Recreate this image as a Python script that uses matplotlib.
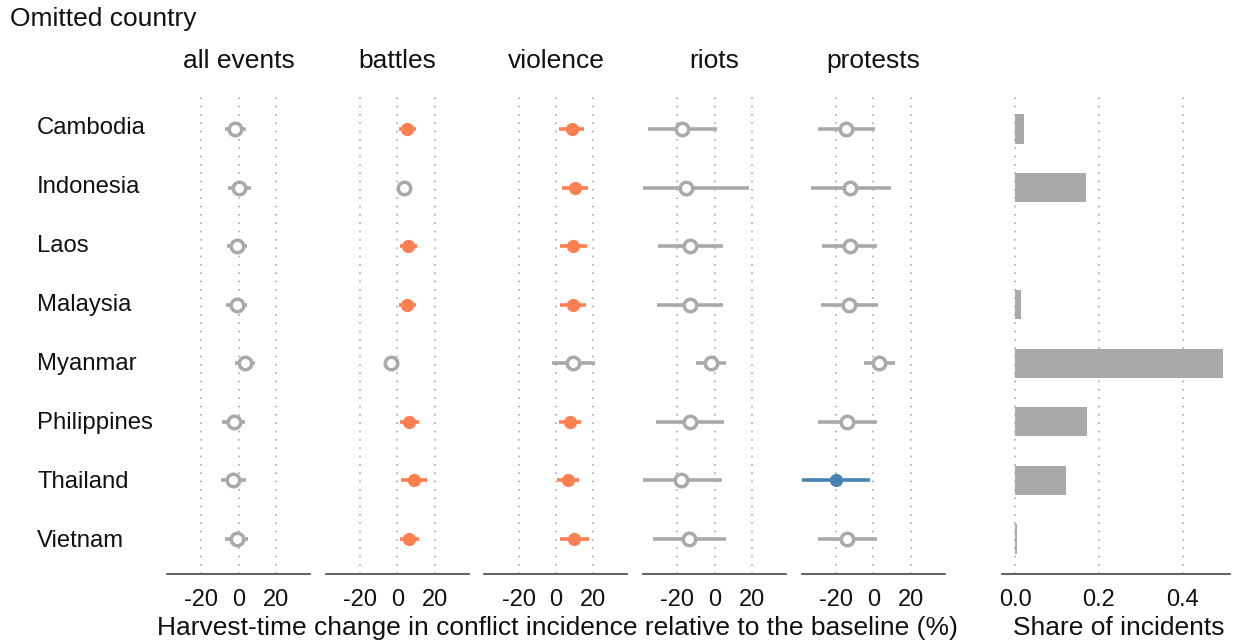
import matplotlib
matplotlib.use("Agg")
import matplotlib.pyplot as plt

plt.rcParams['font.family'] = ['Liberation Sans', 'DejaVu Sans']

# data
countries = ["Cambodia", "Indonesia", "Laos", "Malaysia",
             "Myanmar", "Philippines", "Thailand", "Vietnam"]
panels = ["all events", "battles", "violence", "riots", "protests"]

all_est = [-2.0, 0.3, -0.9, -1.1, 3.2, -2.7, -3.0, -1.1]
all_lo = [-7.3, -5.5, -6.4, -6.8, -2.1, -8.9, -9.6, -7.1]
all_hi = [3.7, 6.4, 4.6, 4.4, 8.7, 3.6, 3.7, 5.0]
all_sig = ["ns", "ns", "ns", "ns", "ns", "ns", "ns", "ns"]

bat_est = [5.0, 3.6, 5.5, 5.2, -3.4, 6.4, 8.9, 6.1]
bat_lo = [0.9, 2.0, 1.3, 1.1, -4.8, 1.3, 2.1, 1.4]
bat_hi = [9.8, 5.2, 10.3, 10.0, -2.0, 11.7, 15.8, 11.4]
bat_sig = ["pos", "ns", "pos", "pos", "ns", "pos", "pos", "pos"]

vio_est = [8.5, 10.1, 9.3, 9.1, 9.3, 7.7, 6.2, 9.8]
vio_lo = [1.8, 3.4, 2.0, 2.3, -2.3, 1.8, 0.4, 2.3]
vio_hi = [15.1, 17.3, 16.7, 15.8, 20.8, 13.5, 12.5, 17.4]
vio_sig = ["pos", "pos", "pos", "pos", "ns", "pos", "pos", "pos"]

riot_est = [-17.2, -15.1, -13.0, -13.3, -2.0, -13.2, -18.1, -13.7]
riot_lo = [-35.6, -38.2, -30.0, -30.8, -10.0, -31.1, -38.2, -32.9]
riot_hi = [1.2, 18.3, 4.4, 4.6, 6.2, 5.0, 3.7, 5.9]
riot_sig = ["ns", "ns", "ns", "ns", "ns", "ns", "ns", "ns"]

prot_est = [-14.6, -12.3, -12.6, -12.8, 3.2, -13.9, -19.9, -14.0]
prot_lo = [-29.7, -33.2, -27.2, -27.9, -5.0, -29.7, -38.0, -29.7]
prot_hi = [0.9, 9.4, 2.1, 2.5, 11.4, 2.0, -1.8, 2.1]
prot_sig = ["ns", "ns", "ns", "ns", "ns", "ns", "neg", "ns"]

share = [0.021, 0.170, 0.0, 0.014, 0.496, 0.171, 0.122, 0.005]

est = [all_est, bat_est, vio_est, riot_est, prot_est]
lo = [all_lo, bat_lo, vio_lo, riot_lo, prot_lo]
hi = [all_hi, bat_hi, vio_hi, riot_hi, prot_hi]
sig = [all_sig, bat_sig, vio_sig, riot_sig, prot_sig]

colors = {"pos": "#FF7F50", "neg": "#4682B4", "ns": "#A9A9A9"}
txt = "#111111"
fs_big = 19
fs_small = 17

W, H = 1233, 643
fig = plt.figure(figsize=(W / 100, H / 100), dpi=100)

top_px, bot_px = 94, 574
ypos = list(range(1, len(countries) + 1))


def px_axes(x0, x1):
    return fig.add_axes([x0 / W, (H - bot_px) / H, (x1 - x0) / W, (bot_px - top_px) / H])


def style(ax, ticks, labels):
    ax.set_ylim(8.6, 0.4)
    ax.set_yticks([])
    for s in ["top", "right", "left"]:
        ax.spines[s].set_visible(False)
    ax.spines["bottom"].set_color("#555555")
    ax.spines["bottom"].set_linewidth(1.3)
    ax.set_xticks(ticks)
    ax.set_xticklabels(labels)
    ax.tick_params(axis="x", length=0, pad=11, labelsize=fs_small, labelcolor=txt)
    for t in ticks:
        ax.axvline(t, color="#AAAAAA", lw=1.2, ls=(0, (1, 4)), zorder=0)


starts = [167, 325.7, 484.4, 643.1, 801.8]
for i, name in enumerate(panels):
    ax = px_axes(starts[i], starts[i] + 143)
    ax.set_xlim(-38.2, 38.1)
    style(ax, [-20, 0, 20], ["-20", "0", "20"])
    for j in range(len(countries)):
        c = colors[sig[i][j]]
        ax.plot([lo[i][j], hi[i][j]], [ypos[j], ypos[j]], color=c, lw=2.6,
                solid_capstyle="butt", zorder=2)
        if sig[i][j] == "ns":
            ax.plot(est[i][j], ypos[j], "o", ms=9, mfc="white", mec=c,
                    mew=2.5, zorder=3)
        else:
            ax.plot(est[i][j], ypos[j], "o", ms=9.5, mfc=c, mec=c, mew=0,
                    zorder=3)
    ax.set_title(name, fontsize=fs_big, color=txt, pad=19)

# share of incidents
axb = px_axes(1002, 1230)
axb.set_xlim(-0.031, 0.512)
style(axb, [0.0, 0.2, 0.4], ["0.0", "0.2", "0.4"])
axb.barh(ypos, share, height=0.5, color="#A9A9A9", zorder=2)

for j, c in enumerate(countries):
    fig.text(37 / W, 1 - (128.5 + j * 58.86) / H, c, fontsize=fs_small + 0.2,
             color=txt, ha="left", va="center")

fig.text(10 / W, 1 - 19 / H, "Omitted country", fontsize=fs_big, color=txt,
         ha="left", va="center")
fig.text(557 / W, 1 - 628 / H,
         "Harvest-time change in conflict incidence relative to the baseline (%)",
         fontsize=fs_big, color=txt, ha="center", va="center")
fig.text(1119 / W, 1 - 628 / H, "Share of incidents", fontsize=fs_big, color=txt,
         ha="center", va="center")

fig.savefig("out.png", dpi=100, facecolor="white")
